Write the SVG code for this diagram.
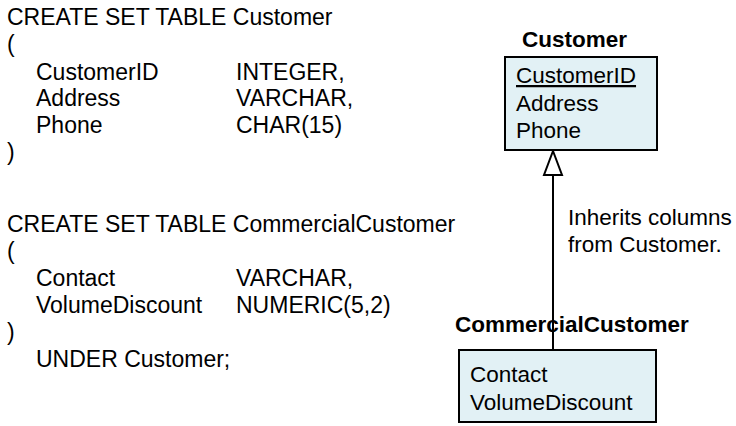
<svg xmlns="http://www.w3.org/2000/svg" width="736" height="426" viewBox="0 0 736 426">
  <style>
    text { font-family: "Liberation Sans", Arial, sans-serif; font-size: 22.5px; fill: #000; }
    .sql text { font-size: 23px; }
    .title { font-weight: bold; }
    .table { fill: #e2f1f5; stroke: #000; stroke-width: 2; }
    .link { stroke: #000; stroke-width: 2; fill: none; }
  </style>
  <defs>
    <!-- hollow triangle for generalization, pointing along the path direction -->
    <marker id="inherit" markerUnits="userSpaceOnUse" markerWidth="30" markerHeight="24" refX="26" refY="12" orient="auto" viewBox="0 0 30 24">
      <path d="M26 12 L2 3 L2 21 Z" fill="#fff" stroke="#000" stroke-width="2" stroke-linejoin="miter"/>
    </marker>
  </defs>

  <rect width="736" height="426" fill="#fff"/>

  <!-- SQL definitions -->
  <g id="sql-customer" class="sql">
    <text x="7" y="25">CREATE SET TABLE Customer</text>
    <text x="7" y="52">(</text>
    <text x="36" y="79.5">CustomerID</text>
    <text x="236" y="79.5">INTEGER,</text>
    <text x="36" y="106.3">Address</text>
    <text x="236" y="106.3">VARCHAR,</text>
    <text x="36" y="133">Phone</text>
    <text x="236" y="133">CHAR(15)</text>
    <text x="7" y="160">)</text>
  </g>

  <g id="sql-commercial" class="sql">
    <text x="7" y="232">CREATE SET TABLE CommercialCustomer</text>
    <text x="7" y="259">(</text>
    <text x="36" y="286">Contact</text>
    <text x="236" y="286">VARCHAR,</text>
    <text x="36" y="313">VolumeDiscount</text>
    <text x="236" y="313">NUMERIC(5,2)</text>
    <text x="7" y="340">)</text>
    <text x="36" y="367">UNDER Customer;</text>
  </g>

  <!-- Connectors -->
  <g id="connectors">
    <line class="link" x1="553" y1="349" x2="553" y2="151" marker-end="url(#inherit)"/>
    <text x="568" y="225">Inherits columns</text>
    <text x="568" y="252">from Customer.</text>
  </g>

  <!-- Table nodes -->
  <g id="node-customer">
    <text class="title" x="522" y="47">Customer</text>
    <rect class="table" x="505" y="57" width="152" height="93"/>
    <text x="516" y="83" text-decoration="underline">CustomerID</text>
    <text x="516" y="110.5">Address</text>
    <text x="516" y="137.5">Phone</text>
  </g>

  <g id="node-commercial">
    <rect class="table" x="459" y="350" width="197" height="72"/>
    <text class="title" x="455" y="332">CommercialCustomer</text>
    <text x="470" y="382">Contact</text>
    <text x="470" y="410">VolumeDiscount</text>
  </g>
</svg>
